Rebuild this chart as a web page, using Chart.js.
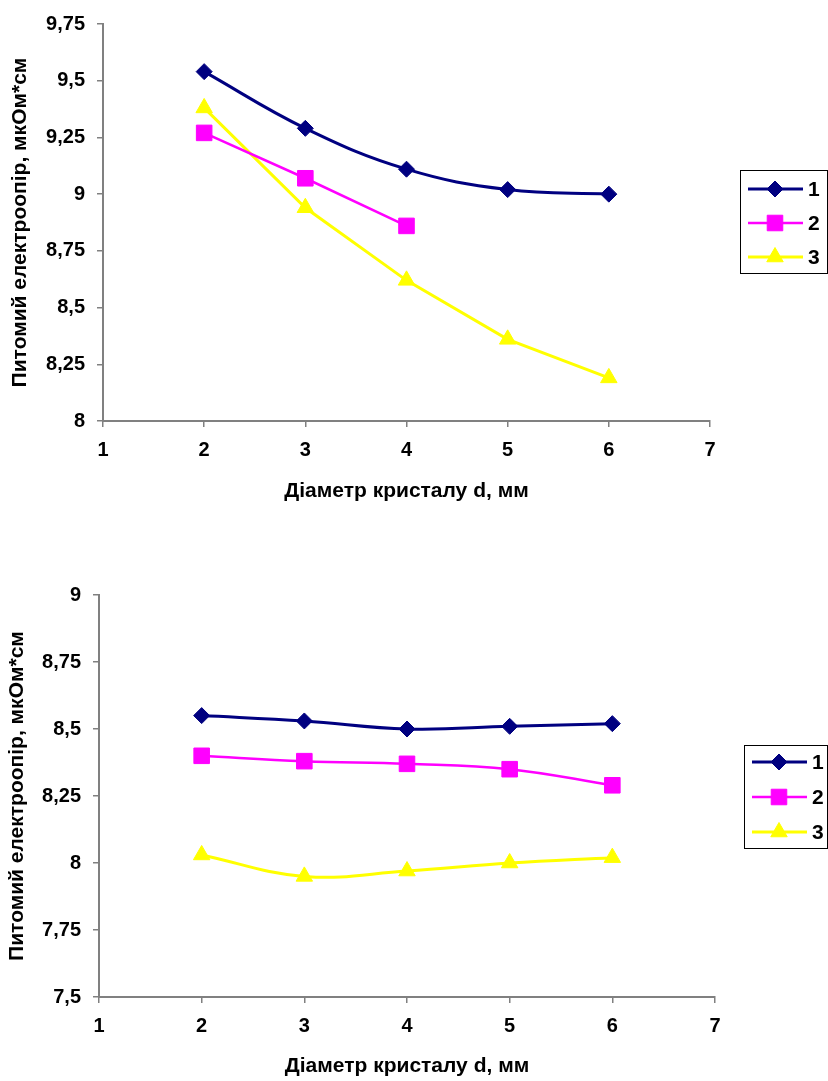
<!DOCTYPE html>
<html>
<head>
<meta charset="utf-8">
<script src="https://cdn.jsdelivr.net/npm/chart.js@4.4.1/dist/chart.umd.min.js"></script>
<style>
    html, body { margin: 0; padding: 0; background: #fff; overflow: hidden; }
    #topChart { position: absolute; left: 0; top: 0; }
    #bottomChart { position: absolute; left: 0; top: 560px; }
</style>
</head>
<body>
<canvas id="topChart" width="828" height="540"></canvas>
<canvas id="bottomChart" width="828" height="521"></canvas>
<script>
// Data
const diameters = [2, 3, 4, 5, 6];
const seriesLabels = ['1', '2', '3'];
const xTicks = [1, 2, 3, 4, 5, 6, 7];

// upper chart
const topSeries1 = [9.54, 9.29, 9.11, 9.02, 9.00];
const topSeries2 = [9.27, 9.07, 8.86, null, null];
const topSeries3 = [9.38, 8.94, 8.62, 8.36, 8.19];
const topYTicks = [8, 8.25, 8.5, 8.75, 9, 9.25, 9.5, 9.75];

// lower chart
const bottomSeries1 = [8.55, 8.53, 8.50, 8.51, 8.52];
const bottomSeries2 = [8.40, 8.38, 8.37, 8.35, 8.29];
const bottomSeries3 = [8.03, 7.95, 7.97, 8.00, 8.02];
const bottomYTicks = [7.5, 7.75, 8, 8.25, 8.5, 8.75, 9];

const xTitle = 'Діаметр кристалу d, мм';
const yTitle = 'Питомий електроопір, мкОм*см';

const FONT = "'Liberation Sans', Arial, sans-serif";
const AXIS_COLOR = '#808080';

const seriesStyles = [
    { color: '#000080', pointStyle: 'rectRot', radius: 8, width: 3 },
    { color: '#FF00FF', pointStyle: 'rect', radius: 11, width: 2.5 },
    { color: '#FFFF00', pointStyle: 'triangle', radius: 9.5, width: 3 }
];

// Excel-like legend: line + marker + label inside a framed box
const boxLegend = {
    id: 'boxLegend',
    afterDraw(chart, args, opts) {
        const ctx = chart.ctx;
        ctx.save();
        ctx.strokeStyle = '#000';
        ctx.lineWidth = 1;
        ctx.strokeRect(opts.left + 0.5, opts.top + 0.5, chart.width - opts.left - 1, opts.height);

        chart.data.datasets.forEach((ds, i) => {
            const y = opts.top + opts.firstRow + i * opts.rowGap;
            ctx.strokeStyle = ds.borderColor;
            ctx.lineWidth = ds.borderWidth;
            ctx.beginPath();
            ctx.moveTo(opts.left + 8, y);
            ctx.lineTo(opts.left + 63, y);
            ctx.stroke();

            ctx.fillStyle = ds.pointBackgroundColor;
            ctx.strokeStyle = ds.pointBorderColor;
            ctx.lineWidth = 1;
            Chart.helpers.drawPoint(ctx, {
                pointStyle: ds.pointStyle,
                radius: ds.pointRadius,
                rotation: 0,
                borderWidth: 1
            }, opts.left + 35, y);

            ctx.fillStyle = '#000';
            ctx.font = 'bold 21px ' + FONT;
            ctx.textAlign = 'left';
            ctx.textBaseline = 'middle';
            ctx.fillText(ds.label, opts.left + 68, y + 1);
        });
        ctx.restore();
    }
};

function formatNum(v) {
    return String(v).replace('.', ',');
}

function createChart(canvasId, values, tensions, yTicks, geo) {
    const ctx = document.getElementById(canvasId).getContext('2d');

    const datasets = values.map((vals, i) => {
        const st = seriesStyles[i];
        return {
            label: seriesLabels[i],
            data: diameters.map((d, k) => ({ x: d, y: vals[k] })),
            borderColor: st.color,
            backgroundColor: st.color,
            pointBackgroundColor: st.color,
            pointBorderColor: st.color,
            pointBorderWidth: 1,
            pointStyle: st.pointStyle,
            pointRadius: st.radius,
            borderWidth: st.width,
            tension: tensions[i]
        };
    });

    return new Chart(ctx, {
        type: 'line',
        data: { datasets },
        plugins: [boxLegend],
        options: {
            responsive: false,
            animation: false,
            layout: {
                padding: { left: 0, top: geo.top, right: geo.right, bottom: geo.bottom }
            },
            plugins: {
                legend: { display: false },
                tooltip: { enabled: false },
                boxLegend: geo.legend
            },
            scales: {
                x: {
                    type: 'linear',
                    min: xTicks[0],
                    max: xTicks[xTicks.length - 1],
                    afterBuildTicks: scale => { scale.ticks = xTicks.map(v => ({ value: v })); },
                    afterFit: scale => { scale.height = geo.xHeight; },
                    grid: {
                        drawOnChartArea: false,
                        drawTicks: true,
                        tickLength: 6,
                        color: AXIS_COLOR,
                        lineWidth: 1.5
                    },
                    border: { color: AXIS_COLOR, width: 2 },
                    ticks: {
                        padding: 11,
                        color: '#000',
                        font: { family: FONT, size: 20, weight: 'bold' }
                    },
                    title: {
                        display: true,
                        text: xTitle,
                        color: '#000',
                        padding: 0,
                        font: { family: FONT, size: 21, weight: 'bold' }
                    }
                },
                y: {
                    min: yTicks[0],
                    max: yTicks[yTicks.length - 1],
                    afterBuildTicks: scale => { scale.ticks = yTicks.map(v => ({ value: v })); },
                    afterFit: scale => { scale.width = geo.yWidth; },
                    grid: {
                        drawOnChartArea: false,
                        drawTicks: true,
                        tickLength: 6,
                        color: AXIS_COLOR,
                        lineWidth: 1.5
                    },
                    border: { color: AXIS_COLOR, width: 2 },
                    ticks: {
                        padding: 12,
                        color: '#000',
                        font: { family: FONT, size: 20, weight: 'bold' },
                        callback: v => formatNum(v)
                    },
                    title: {
                        display: true,
                        text: yTitle,
                        color: '#000',
                        padding: { top: geo.yTitlePad, bottom: 0 },
                        font: { family: FONT, size: 21, weight: 'bold' }
                    }
                }
            }
        }
    });
}

createChart('topChart',
    [topSeries1, topSeries2, topSeries3],
    [0.4, 0, 0],
    topYTicks,
    {
        top: 23, right: 118, bottom: 36, xHeight: 83, yWidth: 103, yTitlePad: 8,
        legend: { left: 740, top: 170, height: 103, firstRow: 19, rowGap: 34 }
    });

createChart('bottomChart',
    [bottomSeries1, bottomSeries2, bottomSeries3],
    [0.4, 0.4, 0.4],
    bottomYTicks,
    {
        top: 35, right: 113, bottom: 2, xHeight: 82, yWidth: 99, yTitlePad: 5,
        legend: { left: 744, top: 185, height: 103, firstRow: 17, rowGap: 35 }
    });
</script>
</body>
</html>
